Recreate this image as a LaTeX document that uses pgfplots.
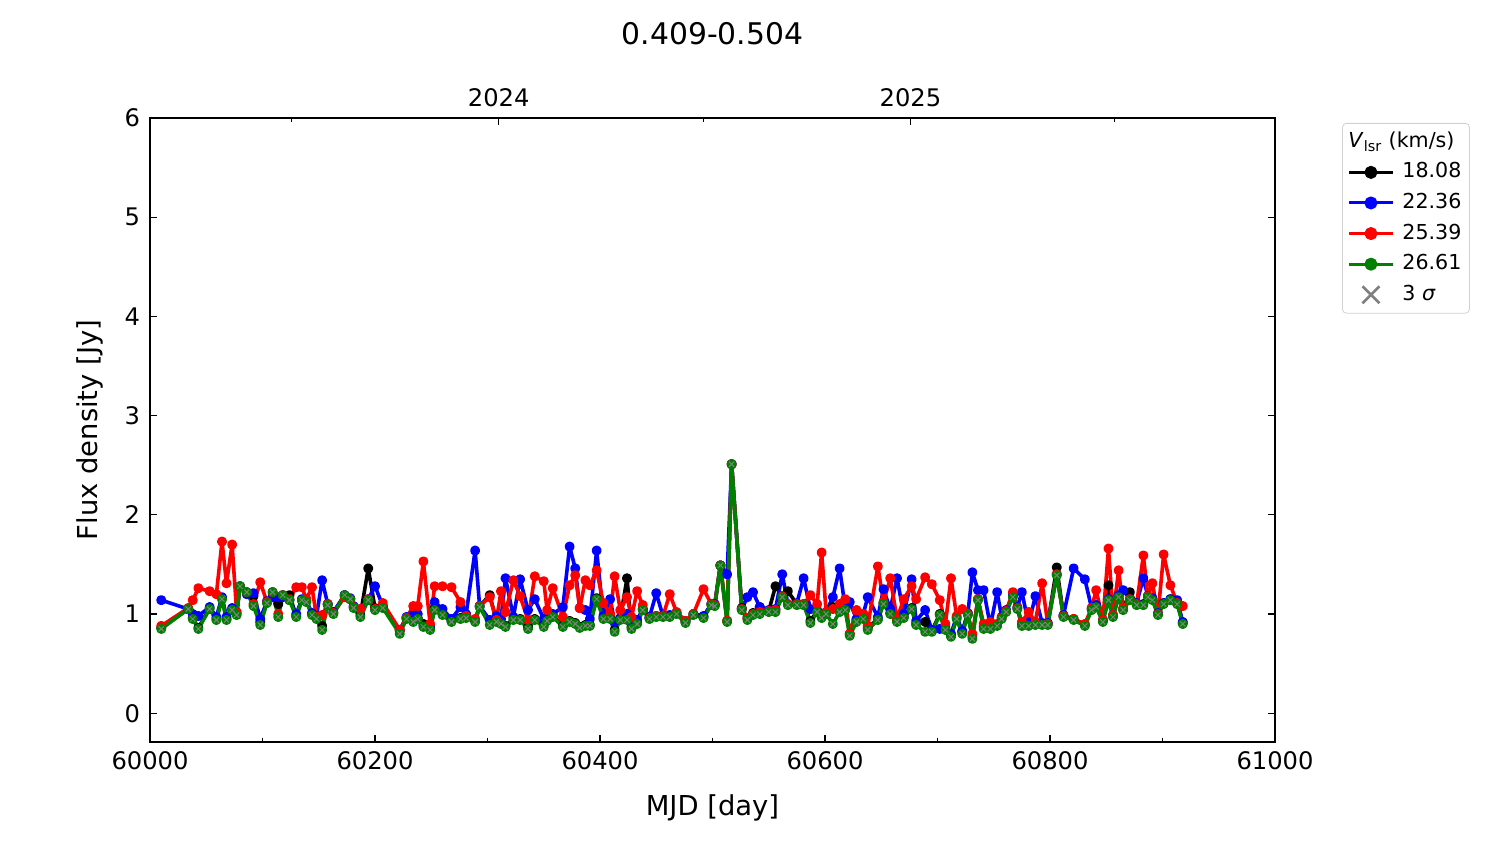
\documentclass[border=0pt]{standalone}
\usepackage{fontspec}
\setmainfont{DejaVu Sans}
\usepackage{pgfplots}
\usepackage{pgfplotstable}
\pgfplotsset{compat=1.18}
\definecolor{mplgreen}{RGB}{0,128,0}
\pgfplotstableread{
mjd k b r g
60010 0.86 1.14 0.88 0.85
60034 1.05 1.05 1.06 1.05
60038 0.96 1.00 1.14 0.95
60043 0.86 0.98 1.26 0.85
60053 1.06 1.07 1.23 1.05
60059 0.95 0.97 1.20 0.94
60064 1.16 1.17 1.73 1.15
60068 0.95 0.97 1.31 0.94
60073 1.05 1.06 1.70 1.04
60077 1.00 1.02 1.02 0.99
60080 1.28 1.28 1.28 1.28
60086 1.22 1.20 1.22 1.22
60092 1.18 1.21 1.10 1.08
60098 0.92 0.95 1.32 0.89
60104 1.12 1.13 1.12 1.11
60109 1.22 1.17 1.22 1.22
60114 1.10 1.17 1.00 0.97
60118 1.19 1.17 1.19 1.19
60124 1.19 1.14 1.15 1.14
60130 0.98 1.00 1.27 0.97
60135 1.14 1.15 1.27 1.14
60139 1.13 1.13 1.15 1.12
60144 1.00 1.01 1.27 0.99
60148 0.96 0.98 0.97 0.95
60153 0.88 1.34 0.99 0.84
60158 1.10 1.10 1.10 1.09
60163 1.01 1.02 1.01 1.00
60173 1.19 1.19 1.17 1.19
60178 1.15 1.16 1.15 1.15
60181 1.07 1.08 1.07 1.06
60187 0.99 1.05 1.05 0.97
60194 1.46 1.15 1.15 1.14
60200 1.06 1.28 1.05 1.04
60207 1.07 1.08 1.11 1.06
60222 0.83 0.84 0.84 0.80
60228 0.96 0.97 0.96 0.95
60234 0.93 0.99 1.08 0.92
60238 0.96 1.00 1.08 0.95
60243 0.90 0.88 1.53 0.87
60249 0.86 0.88 0.90 0.84
60253 1.06 1.12 1.28 1.04
60260 1.00 1.05 1.28 0.99
60268 0.93 0.95 1.27 0.92
60276 0.96 1.07 1.12 0.95
60281 0.97 1.00 0.98 0.96
60289 0.93 1.64 0.95 0.92
60293 1.08 1.08 1.08 1.07
60302 1.19 0.94 1.17 0.89
60308 0.93 0.98 0.94 0.92
60312 0.91 0.95 1.23 0.90
60316 0.88 1.36 1.02 0.87
60323 0.95 0.97 1.34 0.94
60329 0.95 1.35 1.18 0.94
60336 0.87 1.04 0.94 0.85
60342 0.95 1.15 1.38 0.94
60350 0.89 0.95 1.33 0.87
60353 0.95 0.97 1.04 0.93
60358 0.98 1.00 1.26 0.97
60367 0.88 1.07 0.97 0.87
60373 0.93 1.68 1.29 0.92
60378 0.91 1.46 1.39 0.90
60382 0.87 1.06 1.06 0.86
60387 0.89 1.04 1.34 0.88
60391 0.89 0.95 1.29 0.88
60397 1.16 1.64 1.44 1.15
60403 0.96 0.98 1.11 0.95
60409 0.96 1.15 1.00 0.95
60413 0.84 0.92 1.38 0.82
60418 0.95 0.96 1.04 0.94
60424 1.36 1.00 1.17 0.94
60428 0.87 0.90 0.97 0.85
60433 0.91 0.94 1.23 0.90
60438 1.05 1.05 1.09 1.04
60444 0.96 0.97 0.96 0.95
60450 0.98 1.21 0.98 0.97
60456 0.98 0.98 0.98 0.97
60462 0.98 0.99 1.20 0.97
60468 1.01 1.01 1.02 1.00
60476 0.92 0.93 0.93 0.91
60483 1.00 1.00 1.00 0.99
60492 0.97 0.98 1.25 0.96
60499 1.10 1.10 1.10 1.09
60502 1.09 1.10 1.09 1.08
60507 1.49 1.49 1.49 1.49
60513 0.93 1.40 0.93 0.92
60517 2.51 2.51 2.51 2.51
60526 1.06 1.05 1.05 1.04
60531 0.96 1.17 0.96 0.94
60536 1.01 1.22 1.00 0.99
60542 1.07 1.07 1.02 1.00
60550 1.03 1.04 1.03 1.02
60556 1.28 1.05 1.04 1.02
60562 1.18 1.40 1.18 1.17
60567 1.23 1.10 1.10 1.09
60575 1.10 1.11 1.10 1.09
60581 1.10 1.36 1.10 1.09
60587 0.93 1.05 1.19 0.91
60593 1.03 1.04 1.10 1.02
60597 0.97 1.00 1.62 0.96
60601 1.01 1.02 1.02 1.00
60607 1.07 1.17 1.05 0.90
60613 1.03 1.46 1.10 1.02
60618 1.05 1.06 1.15 1.04
60622 0.80 1.12 0.80 0.78
60628 0.94 0.95 1.04 0.92
60634 0.96 1.00 1.00 0.95
60638 0.86 1.17 0.88 0.84
60647 0.95 0.97 1.48 0.94
60652 1.11 1.25 1.12 1.10
60658 1.01 1.05 1.36 1.00
60664 0.93 1.36 0.95 0.92
60670 0.97 1.00 1.15 0.96
60677 1.06 1.35 1.28 1.05
60681 0.90 0.93 1.15 0.89
60689 0.92 1.04 1.37 0.82
60695 0.83 0.84 1.30 0.82
60702 1.00 0.85 1.14 0.99
60707 0.86 0.88 0.90 0.84
60712 0.79 0.80 1.36 0.77
60717 0.96 0.97 0.98 0.95
60722 0.82 0.83 1.05 0.80
60727 1.00 1.01 1.00 0.99
60731 0.77 1.42 0.80 0.75
60736 1.15 1.24 1.15 1.14
60741 0.87 1.24 0.90 0.85
60747 0.86 0.88 0.92 0.85
60753 0.89 1.22 0.90 0.88
60757 0.96 0.97 0.96 0.95
60761 1.03 1.04 1.03 1.02
60767 1.18 1.19 1.22 1.17
60771 1.06 1.07 1.06 1.05
60775 0.89 1.22 0.92 0.88
60781 0.89 0.90 1.02 0.88
60787 0.90 1.18 0.92 0.89
60793 0.90 0.91 1.31 0.89
60798 0.90 0.91 0.90 0.89
60806 1.47 1.40 1.40 1.39
60812 0.98 0.99 0.98 0.97
60821 0.95 1.46 0.95 0.94
60831 0.89 1.35 0.90 0.88
60837 1.05 1.06 1.06 1.04
60841 1.08 1.09 1.24 1.07
60847 0.93 0.94 0.94 0.92
60852 1.29 1.15 1.66 1.14
60856 0.98 0.99 0.99 0.97
60861 1.18 1.19 1.44 1.17
60865 1.05 1.24 1.06 1.04
60871 1.22 1.15 1.15 1.14
60877 1.10 1.11 1.10 1.09
60883 1.10 1.36 1.59 1.09
60887 1.18 1.18 1.18 1.17
60891 1.15 1.16 1.31 1.14
60896 1.00 1.01 1.00 0.99
60901 1.11 1.11 1.60 1.10
60907 1.15 1.15 1.29 1.14
60913 1.11 1.14 1.11 1.10
60918 0.91 0.92 1.08 0.90
}\fluxdata

\begin{document}
\begin{tikzpicture}
\path[use as bounding box] (-75pt,-51pt) rectangle (675pt,371pt);
\begin{axis}[
  at={(0pt,0pt)}, anchor=south west,
  scale only axis, width=562.5pt, height=312pt,
  xmin=60000, xmax=61000, ymin=-0.29, ymax=6,
  xtick={60000,60200,60400,60600,60800,61000},
  minor xtick={60100,60300,60500,60700,60900},
  ytick={0,1,2,3,4,5,6},
  xtick pos=left, ytick pos=both,
  tick align=inside,
  major tick length=3.5pt, minor tick length=2.2pt,
  every tick/.style={black, line width=0.6pt},
  axis line style={line width=0.7pt},
  scaled x ticks=false,
  /pgf/number format/1000 sep={},
  /pgf/number format/assume math mode=true,
  tick label style={font=\fontsize{12.1}{14}\selectfont},
  xticklabel style={yshift=-1pt},
  yticklabel style={xshift=-1.5pt},
  xlabel={MJD [day]}, ylabel={Flux density [Jy]},
  label style={font=\fontsize{13.7}{16}\selectfont},
  xlabel style={at={(axis description cs:0.5,-0.106)}, anchor=center},
  ylabel style={at={(axis description cs:-0.0533,0.5)}, anchor=center},
  title={0.409-0.504},
  title style={font=\fontsize{14.9}{18}\selectfont, at={(axis description cs:0.5,1)}, anchor=center, yshift=36.4pt},
  legend image code/.code={\draw[#1,mark repeat=2,mark phase=2] plot coordinates {(0pt,0pt)(11pt,0pt)(22pt,0pt)};},
  legend style={at={(1.0596,0.992)}, anchor=north west, draw=black!18, rounded corners=2pt,
    font=\fontsize{10.3}{12}\selectfont, row sep=1.9pt, inner xsep=2.5pt, inner ysep=2.5pt,
    nodes={inner sep=1.5pt, text height=8pt, text depth=2.4pt},
    /tikz/every odd column/.append style={column sep=2.5pt},
    /tikz/every even column/.append style={column sep=0pt}},
  legend cell align=left,
  every axis plot/.append style={line join=round},
]
\addplot[black, line width=1.8pt, mark=*, mark size=1.6pt, forget plot] table[x=mjd,y=k] {\fluxdata};
\addplot[blue, line width=1.8pt, mark=*, mark size=1.6pt, forget plot] table[x=mjd,y=b] {\fluxdata};
\addplot[red, line width=1.8pt, mark=*, mark size=1.6pt, forget plot] table[x=mjd,y=r] {\fluxdata};
\addplot[mplgreen, line width=1.8pt, mark=*, mark size=1.6pt, forget plot] table[x=mjd,y=g] {\fluxdata};
\addplot[gray, only marks, mark=x, mark size=1.8pt, line width=0.5pt, forget plot] table[x=mjd,y=g] {\fluxdata};
\addlegendimage{empty legend}
\addlegendentry{\hspace*{-27pt}\textit{V}\textsubscript{lsr} (km/s)}
\addlegendimage{black, line width=1.5pt, mark=*, mark size=2.5pt}
\addlegendentry{18.08}
\addlegendimage{blue, line width=1.5pt, mark=*, mark size=2.5pt}
\addlegendentry{22.36}
\addlegendimage{red, line width=1.5pt, mark=*, mark size=2.5pt}
\addlegendentry{25.39}
\addlegendimage{mplgreen, line width=1.5pt, mark=*, mark size=2.5pt}
\addlegendentry{26.61}
\addlegendimage{gray, only marks, mark=x, mark size=6pt, line width=1.3pt}
\addlegendentry{3 \textit{σ}}
\end{axis}
\begin{axis}[
  at={(0pt,0pt)}, anchor=south west,
  scale only axis, width=562.5pt, height=312pt,
  xmin=60000, xmax=61000, ymin=0, ymax=1,
  axis x line*=top, axis y line=none,
  xtick={60310,60676}, xticklabels={2024,2025},
  minor xtick={60126,60492,60857},
  scaled x ticks=false,
  tick align=inside,
  major tick length=3.5pt, minor tick length=2.2pt,
  every tick/.style={black, line width=0.6pt},
  axis line style={line width=0.7pt},
  tick label style={font=\fontsize{12.1}{14}\selectfont},
  xticklabel style={yshift=2pt},
]
\end{axis}
\end{tikzpicture}
\end{document}
